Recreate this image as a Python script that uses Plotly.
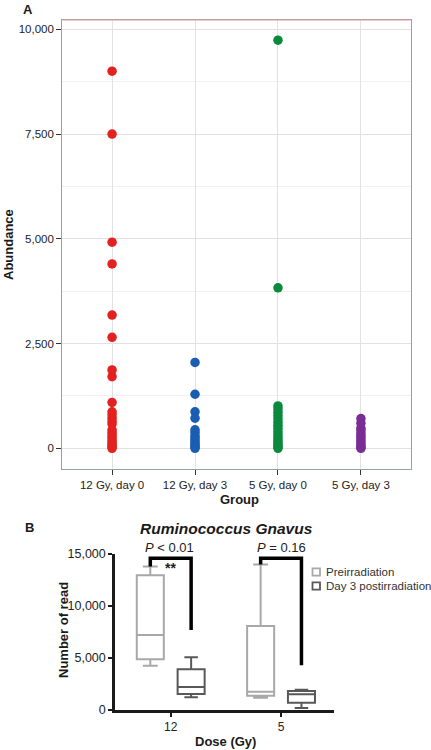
import plotly.graph_objects as go

W, H = 431, 750
FONT = "Liberation Sans, Arial, sans-serif"

# ---------------- Data: panel A ----------------
groups = ["12 Gy, day 0", "12 Gy, day 3", "5 Gy, day 0", "5 Gy, day 3"]
group_colors = ["#e3221f", "#1a5db3", "#0b8a3d", "#7a2d95"]
abund_12d0 = [9000, 7500, 4920, 4400, 3180, 2650, 1870, 1710, 1095, 870, 800,
              720, 640, 580, 440, 380, 320, 260, 200, 150, 100, 60, 30, 0]
abund_12d3 = [2050, 1290, 870, 720, 440, 380, 300, 250, 200, 150, 100, 60, 30, 0]
abund_5d0 = [9740, 3830, 1010, 940, 860, 780, 700, 620, 550, 480, 400, 330,
             260, 200, 150, 100, 60, 30, 0]
abund_5d3 = [710, 600, 480, 420, 350, 290, 230, 170, 110, 60, 20, 0]
abundances = [abund_12d0, abund_12d3, abund_5d0, abund_5d3]
a_ticks = [0, 2500, 5000, 7500, 10000]

# ---------------- Data: panel B ----------------
doses = ["12", "5"]
pre_low = [4260, 1180]
pre_q1 = [4880, 1380]
pre_med = [7200, 1760]
pre_q3 = [12950, 8080]
pre_high = [13800, 14000]
post_low = [1220, 200]
post_q1 = [1540, 700]
post_med = [2220, 1510]
post_q3 = [3910, 1830]
post_high = [5070, 1950]
bracket_top = [14600, 14600]
bracket_left_end = [13800, 14000]
bracket_right_end = [7700, 4300]
p_labels = ["<i>P</i> &lt; 0.01", "<i>P</i> = 0.16"]
stars = ["**", ""]
b_ticks = [0, 5000, 10000, 15000]
series_names = ["Preirradiation", "Day 3 postirradiation"]


def fx(p):
    return p / W


def fy(p):
    return 1 - p / H


fig = go.Figure()

# Panel A scatter
for i, (vals, col) in enumerate(zip(abundances, group_colors)):
    fig.add_trace(go.Scatter(
        x=[i] * len(vals), y=vals, mode="markers",
        marker=dict(size=9.5, color=col, line=dict(width=0)),
        xaxis="x", yaxis="y", showlegend=False, hoverinfo="skip"))

# Panel B boxes
OFF = 0.185
fig.add_trace(go.Box(
    x=[i - OFF for i in range(len(doses))],
    q1=pre_q1, median=pre_med, q3=pre_q3, lowerfence=pre_low, upperfence=pre_high,
    width=0.245, whiskerwidth=0.55, boxpoints=False,
    line=dict(color="#a8a8a8", width=2), fillcolor="white",
    xaxis="x2", yaxis="y2", name=series_names[0], showlegend=False))
fig.add_trace(go.Box(
    x=[i + OFF for i in range(len(doses))],
    q1=post_q1, median=post_med, q3=post_q3, lowerfence=post_low, upperfence=post_high,
    width=0.245, whiskerwidth=0.5, boxpoints=False,
    line=dict(color="#585858", width=2), fillcolor="white",
    xaxis="x2", yaxis="y2", name=series_names[1], showlegend=False))

# Significance brackets
for i in range(len(doses)):
    xl, xr = i - OFF, i + OFF
    fig.add_trace(go.Scatter(
        x=[xl, xl, xr, xr],
        y=[bracket_left_end[i], bracket_top[i], bracket_top[i], bracket_right_end[i]],
        mode="lines", line=dict(color="black", width=3.5),
        xaxis="x2", yaxis="y2", showlegend=False, hoverinfo="skip", cliponaxis=False))

annotations = []
p_x = [169, 281.7]
for i in range(len(doses)):
    annotations.append(dict(x=fx(p_x[i]), y=fy(547), xref="paper", yref="paper",
                            text=p_labels[i], showarrow=False,
                            font=dict(size=13, color="#222", family=FONT),
                            xanchor="center", yanchor="middle"))
    if stars[i]:
        annotations.append(dict(x=fx(p_x[i] + 1), y=fy(568), xref="paper", yref="paper",
                                text="<b>" + stars[i] + "</b>", showarrow=False,
                                font=dict(size=14, color="#222", family=FONT),
                                xanchor="center", yanchor="middle"))


def lab(text, x, y, size, angle=0, bold=True, italic=False, anchor="center"):
    t = text
    if italic:
        t = "<i>" + t + "</i>"
    if bold:
        t = "<b>" + t + "</b>"
    annotations.append(dict(x=fx(x), y=fy(y), xref="paper", yref="paper", text=t,
                            showarrow=False, textangle=angle,
                            font=dict(size=size, color="#1a1a1a", family=FONT),
                            xanchor=anchor, yanchor="middle"))


lab("A", 28, 9, 13)
lab("B", 29, 527, 13)
lab("Abundance", 8, 245, 13, angle=-90)
lab("Group", 239.5, 499, 13)
lab("Ruminococcus Gnavus", 226, 528, 15.5, italic=True)
lab("Number of read", 63, 630, 13, angle=-90)
lab("Dose (Gy)", 225.5, 741, 13)

# Manual legend
shapes = []
leg_y = [572, 586]
leg_col = ["#a8a8a8", "#585858"]
for name, yy, c in zip(series_names, leg_y, leg_col):
    shapes.append(dict(type="rect", xref="paper", yref="paper",
                       x0=fx(312.5), x1=fx(320), y0=fy(yy - 3.7), y1=fy(yy + 3.7),
                       line=dict(color=c, width=1.8), fillcolor="white"))
    annotations.append(dict(x=fx(324), y=fy(yy), xref="paper", yref="paper", text=name,
                            showarrow=False, xanchor="left", yanchor="middle",
                            font=dict(size=11.5, color="#333", family=FONT)))

# top reddish border of panel A
shapes.append(dict(type="line", xref="paper", yref="paper",
                   x0=fx(62.3), x1=fx(410.7), y0=fy(20), y1=fy(20),
                   line=dict(color="#e39a9a", width=1)))

fig.update_layout(
    width=W, height=H,
    margin=dict(l=0, r=0, t=0, b=0, pad=0, autoexpand=False),
    paper_bgcolor="white", plot_bgcolor="white",
    font=dict(family=FONT, color="#222"),
    showlegend=False,
    annotations=annotations, shapes=shapes,
    xaxis=dict(domain=[fx(62.3), fx(410.7)], anchor="y", range=[-0.6, 3.6],
               automargin=False,
               tickvals=list(range(len(groups))), ticktext=groups,
               tickfont=dict(size=11.5, color="#222"),
               showgrid=True, gridcolor="#e2e2e6", gridwidth=1,
               zeroline=False, showline=True, linecolor="#8ea3a6", linewidth=1.2,
               mirror=True, ticks="outside", ticklen=5, tickwidth=1.2, tickcolor="#333"),
    yaxis=dict(domain=[fy(469), fy(20)], anchor="x", range=[-494, 10222],
               automargin=False,
               tickvals=a_ticks, tickformat=",", tickfont=dict(size=11.5, color="#222"),
               showgrid=True, gridcolor="#e6dfe2", gridwidth=1,
               minor=dict(showgrid=True, gridcolor="#f4f0f1", dtick=1250, tick0=0),
               zeroline=False, showline=True, linecolor="#8ea3a6", linewidth=1.2,
               mirror=True, ticks="outside", ticklen=5, tickwidth=1.2, tickcolor="#333"),
    xaxis2=dict(domain=[fx(115), fx(334)], anchor="y2", range=[-0.505, 1.48],
                automargin=False,
                tickvals=list(range(len(doses))), ticktext=doses,
                tickfont=dict(size=12, color="#222"),
                showgrid=False, zeroline=False, showline=True, linecolor="#1a1a1a",
                linewidth=2.5, ticks="outside", ticklen=4, tickwidth=2, tickcolor="#1a1a1a"),
    yaxis2=dict(domain=[fy(710), fy(554)], anchor="x2", range=[0, 15000],
                automargin=False,
                tickvals=b_ticks, tickformat=",", tickfont=dict(size=12.5, color="#222"),
                showgrid=False, zeroline=False, showline=True, linecolor="#1a1a1a",
                linewidth=2.5, ticks="outside", ticklen=4, tickwidth=2, tickcolor="#1a1a1a"),
)

fig.write_html("out.html", config={"displayModeBar": False},
               post_script="document.body.style.margin='0';")
